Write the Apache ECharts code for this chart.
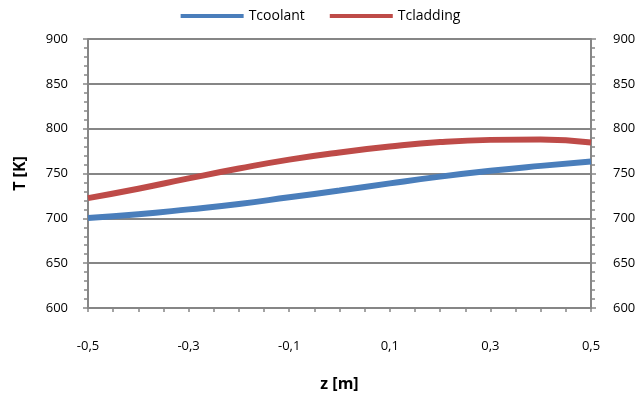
<!DOCTYPE html>
<html>
<head>
<meta charset="utf-8">
<script src="https://cdn.jsdelivr.net/npm/echarts@6/dist/echarts.min.js"></script>
<style>html,body{margin:0;padding:0;background:#fff}#c{width:641px;height:397px}</style>
</head>
<body>
<div id="c"></div>
<script>
var zValues = [-0.5, -0.4, -0.3, -0.2, -0.1, 0.0, 0.1, 0.2, 0.3, 0.4, 0.5];
var tCoolant = [700.5, 704.5, 710, 716, 723.5, 731, 739, 746.5, 753, 758.5, 763.5];
var tCladding = [722.5, 733, 744.5, 755.5, 765.5, 773.5, 780, 785, 787.5, 788, 784.5];
var seriesNames = ['Tcoolant', 'Tcladding'];
var xTitle = 'z [m]';
var yTitle = 'T [K]';

var FONT = 'Open Sans';
var AX = '#868686';
function pairs(ys) { return zValues.map(function (z, i) { return [z, ys[i]]; }); }
function fmtX(v) {
  var k = Math.round(v * 10);
  if (Math.abs(k) % 2 !== 1) return '';
  return (k / 10).toFixed(1).replace('.', ',');
}
var yAxisBase = {
  type: 'value', min: 600, max: 900, interval: 50,
  axisLine: { show: true, onZero: false, lineStyle: { color: AX, width: 2 } },
  axisTick: { show: true, length: 5, lineStyle: { color: AX, width: 1.5 } },
  minorTick: { show: true, splitNumber: 5, length: 4, lineStyle: { color: AX, width: 1.5 } },
  axisLabel: { color: '#000', fontFamily: FONT, fontSize: 13, margin: 20 }
};
var chart = echarts.init(document.getElementById('c'), null, { renderer: 'canvas' });
chart.setOption({
  animation: false,
  backgroundColor: '#fff',
  legend: {
    top: 4, left: 'center', itemWidth: 63, itemHeight: 4, itemGap: 25,
    icon: 'rect',
    textStyle: { fontFamily: FONT, fontSize: 14, color: '#000' },
    data: seriesNames
  },
  grid: { left: 88, right: 50, top: 39, bottom: 89 },
  xAxis: {
    type: 'value', min: -0.5, max: 0.5, interval: 0.1,
    name: xTitle, nameLocation: 'middle', nameGap: 68,
    nameTextStyle: { fontFamily: FONT, fontSize: 16, fontWeight: 'bold', color: '#000' },
    axisLine: { show: true, onZero: false, lineStyle: { color: AX, width: 2 } },
    axisTick: { show: true, length: 4, lineStyle: { color: AX, width: 1.5 } },
    minorTick: { show: true, splitNumber: 2, length: 4, lineStyle: { color: AX, width: 1.5 } },
    splitLine: { show: false },
    axisLabel: { color: '#000', fontFamily: FONT, fontSize: 13, margin: 32, formatter: fmtX, showMinLabel: true, showMaxLabel: true }
  },
  yAxis: [
    Object.assign({}, yAxisBase, {
      position: 'left',
      name: yTitle, nameLocation: 'middle', nameGap: 60, nameRotate: 90,
      nameTextStyle: { fontFamily: FONT, fontSize: 16, fontWeight: 'bold', color: '#000' },
      splitLine: { show: true, lineStyle: { color: AX, width: 2 } }
    }),
    Object.assign({}, yAxisBase, {
      position: 'right',
      splitLine: { show: false },
      axisLabel: { color: '#000', fontFamily: FONT, fontSize: 13, margin: 22 }
    })
  ],
  series: [
    { name: seriesNames[0], type: 'line', smooth: true, showSymbol: false, yAxisIndex: 0,
      color: '#4A7EBB', lineStyle: { width: 6, color: '#4A7EBB' }, data: pairs(tCoolant) },
    { name: seriesNames[1], type: 'line', smooth: true, showSymbol: false, yAxisIndex: 0,
      color: '#BE4B48', lineStyle: { width: 6, color: '#BE4B48' }, data: pairs(tCladding) }
  ]
});
</script>
</body>
</html>
